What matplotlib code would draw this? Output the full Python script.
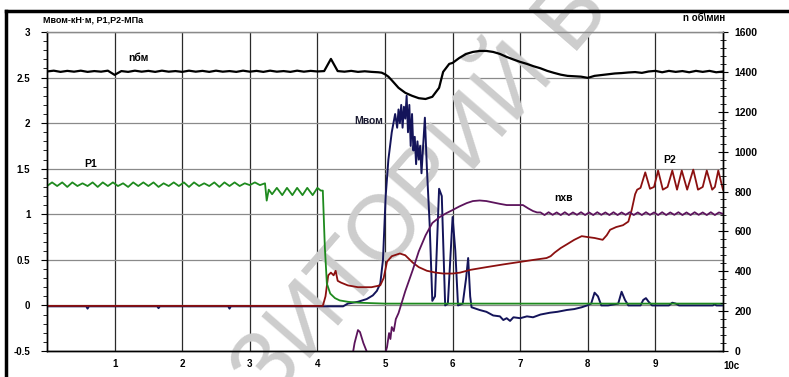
import numpy as np
import matplotlib
matplotlib.use("Agg")
import matplotlib.pyplot as plt
from matplotlib.lines import Line2D
from matplotlib.ticker import MultipleLocator

plt.rcParams['font.family'] = ['Liberation Sans', 'DejaVu Sans']

# ---- data ----
# n бм, об/мин (right axis); first part sampled every 0.1 s
nbm_head = [1402, 1406, 1400, 1405, 1401, 1406, 1400, 1404, 1401, 1406,
            1385, 1404, 1400, 1406, 1401, 1405, 1400, 1406, 1401, 1404,
            1400, 1406, 1401, 1405, 1400, 1406, 1401, 1404, 1400, 1406,
            1401, 1405, 1400, 1406, 1401, 1404, 1400, 1406, 1401, 1405,
            1402, 1404, 1465, 1404, 1401, 1405, 1400, 1403, 1400, 1398]
nbm_tail_t = [4.95, 5.0, 5.05, 5.1, 5.2, 5.3, 5.4, 5.5, 5.6, 5.7, 5.8, 5.86,
              5.95, 6.0, 6.1, 6.2, 6.3, 6.4, 6.5, 6.6, 6.7, 6.8, 6.9, 7.0,
              7.1, 7.2, 7.3, 7.4, 7.5, 7.6, 7.7, 7.8, 7.9, 8.0, 8.1, 8.2,
              8.3, 8.4, 8.5, 8.6, 8.7, 8.8, 8.9, 9.0, 9.1, 9.2, 9.3, 9.4,
              9.5, 9.6, 9.7, 9.8, 9.9, 10.0]
nbm_tail = [1396, 1388, 1376, 1358, 1320, 1295, 1280, 1268, 1264, 1275, 1320, 1400,
            1440, 1445, 1470, 1490, 1500, 1505, 1505, 1500, 1490, 1475, 1462, 1450,
            1440, 1428, 1418, 1405, 1395, 1386, 1380, 1378, 1376, 1370, 1380, 1384,
            1388, 1392, 1394, 1397, 1399, 1395, 1402, 1405, 1398, 1405, 1400, 1404,
            1398, 1405, 1400, 1405, 1398, 1402]

# P1, МПа (left axis); first part sampled every 0.075 s
p1_head = [1.31, 1.35, 1.31, 1.35, 1.30, 1.35, 1.31, 1.34, 1.31, 1.35, 1.30,
           1.35, 1.31, 1.35, 1.31, 1.34, 1.30, 1.35, 1.31, 1.35, 1.31, 1.35,
           1.30, 1.34, 1.31, 1.35, 1.31, 1.35, 1.30, 1.35, 1.31, 1.34, 1.31,
           1.35, 1.30, 1.35, 1.31, 1.35, 1.31, 1.34, 1.32, 1.35, 1.32, 1.34]
p1_tail_t = [3.25, 3.28, 3.33, 3.40, 3.48, 3.55, 3.63, 3.70, 3.78, 3.85, 3.93, 4.00,
             4.05, 4.08, 4.11, 4.14, 4.19, 4.26, 4.33, 4.45, 4.6, 5.0, 6.0, 8.0, 10.0]
p1_tail = [1.15, 1.27, 1.22, 1.29, 1.21, 1.29, 1.21, 1.29, 1.21, 1.29, 1.21, 1.29,
           1.26, 1.26, 0.64, 0.24, 0.13, 0.08, 0.055, 0.04, 0.03, 0.02, 0.02, 0.02, 0.02]

# P2, МПа (left axis)
p2_t = [0.0, 4.08, 4.12, 4.16, 4.2, 4.24, 4.27, 4.3, 4.35, 4.45, 4.6, 4.8, 4.93,
        4.98, 5.03, 5.1, 5.22, 5.3, 5.41, 5.5, 5.62, 5.75, 5.86, 6.0, 6.11, 6.26,
        6.5, 6.75, 7.02, 7.2, 7.39, 7.45, 7.51, 7.6, 7.69, 7.8, 7.91, 8.0, 8.1,
        8.22, 8.28, 8.33, 8.42, 8.52, 8.6, 8.65, 8.7, 8.73, 8.78, 8.85, 8.92,
        8.98, 9.04, 9.11, 9.18, 9.25, 9.32, 9.39, 9.47, 9.56, 9.63, 9.7, 9.76,
        9.84, 9.88, 9.93, 10.0]
p2 = [-0.005, -0.005, 0.1, 0.33, 0.36, 0.33, 0.38, 0.27, 0.25, 0.22, 0.2, 0.2, 0.22,
      0.3, 0.48, 0.54, 0.57, 0.55, 0.47, 0.42, 0.38, 0.36, 0.35, 0.35, 0.36, 0.39,
      0.42, 0.45, 0.48, 0.5, 0.52, 0.54, 0.58, 0.63, 0.67, 0.72, 0.76, 0.75, 0.74,
      0.72, 0.77, 0.83, 0.86, 0.88, 0.92, 1.05, 1.22, 1.27, 1.29, 1.46, 1.28,
      1.3, 1.48, 1.27, 1.3, 1.48, 1.27, 1.48, 1.27, 1.49, 1.27, 1.3, 1.48,
      1.27, 1.30, 1.48, 1.27]

# M вом, кН·м (left axis)
mvom_t = [0.0, 0.58, 0.6, 0.62, 1.63, 1.65, 1.67, 2.68, 2.7, 2.72, 4.38, 4.45,
          4.6, 4.73, 4.82, 4.88, 4.93, 4.97, 5.01, 5.05, 5.1, 5.15, 5.18, 5.2,
          5.22, 5.24, 5.26, 5.28, 5.3, 5.32, 5.34, 5.36, 5.38, 5.4, 5.42, 5.44,
          5.46, 5.48, 5.5, 5.52, 5.54, 5.56, 5.59, 5.62, 5.66, 5.7, 5.74, 5.8,
          5.84, 5.89, 5.93, 6.0, 6.04, 6.08, 6.15, 6.2, 6.23, 6.26, 6.28, 6.4,
          6.5, 6.6, 6.7, 6.75, 6.8, 6.85, 6.9, 7.0, 7.1, 7.19, 7.3, 7.44, 7.55,
          7.69, 7.8, 7.91, 7.99, 8.05, 8.1, 8.15, 8.2, 8.3, 8.45, 8.5, 8.55, 8.6,
          8.78, 8.82, 8.86, 8.9, 8.95, 9.2, 9.25, 9.3, 9.35, 9.85, 9.88, 9.9, 10.0]
mvom = [-0.01, -0.01, -0.035, -0.01, -0.01, -0.03, -0.01, -0.01, -0.035, -0.01, -0.01, 0.02,
        0.04, 0.07, 0.11, 0.16, 0.24, 0.5, 1.2, 1.6, 1.9, 2.1, 1.95, 2.15,
        2.0, 2.2, 1.95, 2.18, 2.05, 2.3, 1.9, 2.2, 1.75, 2.1, 1.7, 1.85,
        1.55, 1.8, 1.6, 1.75, 1.45, 1.7, 2.06, 1.5, 0.9, 0.05, 0.1, 1.28,
        1.2, 0.0, 0.02, 0.97, 0.6, 0.0, 0.02, 0.3, 0.52, 0.1, -0.02, -0.05,
        -0.07, -0.11, -0.12, -0.16, -0.14, -0.17, -0.13, -0.14, -0.12, -0.13, -0.10, -0.08, -0.07,
        -0.05, -0.04, -0.02, 0.0, 0.02, 0.14, 0.1, 0.0, 0.0, 0.02, 0.15, 0.06, 0.0,
        0.0, 0.06, 0.08, 0.04, 0.0, 0.0, 0.03, 0.02, 0.0, 0.0, 0.015, 0.0, 0.0]

# n хв, об/мин (right axis)
nxv_head_t = [4.5, 4.55, 4.6, 4.63, 4.68, 4.75, 4.98, 5.03, 5.06, 5.08, 5.1, 5.13,
              5.16, 5.2, 5.3, 5.41, 5.5, 5.6, 5.7, 5.81, 5.9, 6.0, 6.1, 6.21,
              6.3, 6.4, 6.5, 6.6, 6.7, 6.8, 6.9, 7.04, 7.12, 7.19, 7.25]
nxv_head = [-60, 40, 105, 95, 40, -20, -40, 20, 90, 60, 120, 100,
            160, 190, 300, 406, 500, 580, 642, 672, 690, 707, 725, 742,
            752, 755, 752, 745, 738, 732, 732, 732, 715, 702, 695]
nxv_tail = [695, 682, 696, 683, 695, 682, 696, 682, 695, 683,
            696, 682, 695, 682, 696, 683, 695, 682, 696, 682,
            695, 683, 696, 682, 695, 682, 696, 683, 695, 682,
            696, 682, 695, 683, 696, 682, 695, 682, 696, 683,
            695, 682, 696, 682, 695, 688]

# ---- figure ----
fig = plt.figure(figsize=(7.89, 3.77), dpi=100)
ax = fig.add_axes([47 / 789, 1 - 351 / 377, 676 / 789, 319 / 377])
ax2 = ax.twinx()

nbm_t = np.concatenate([np.arange(len(nbm_head)) * 0.1, nbm_tail_t])
p1_t = np.concatenate([np.arange(len(p1_head)) * 0.075, p1_tail_t])
nxv_t = np.concatenate([nxv_head_t, 7.3 + np.arange(len(nxv_tail)) * 0.06])

ax.plot(mvom_t, mvom, color='#14145a', lw=1.4, zorder=3)
ax.plot(p2_t, p2, color='#8b1010', lw=1.3, zorder=4)
ax.plot(p1_t, np.concatenate([p1_head, p1_tail]), color='#1e8a1e', lw=1.3, zorder=5)
ax2.plot(nxv_t, np.concatenate([nxv_head, nxv_tail]), color='#5c145c', lw=1.3)
ax2.plot(nbm_t, np.concatenate([nbm_head, nbm_tail]), color='black', lw=1.6)

ax.set_xlim(0, 10)
ax.set_ylim(-0.5, 3)
ax2.set_ylim(0, 1600)

ax.set_xticks(range(1, 10))
ax.set_yticks(np.arange(-0.5, 3.01, 0.5))
ax.set_yticklabels(['-0.5', '0', '0.5', '1', '1.5', '2', '2.5', '3'])
ax.yaxis.set_minor_locator(MultipleLocator(0.1))
ax.grid(axis='x', color='#2a2a2a', lw=0.9)
ax.grid(axis='y', color='#8a8a8a', lw=0.9)
ax.set_axisbelow(True)
ax.tick_params(axis='x', length=0, pad=6, labelsize=7)
ax.tick_params(axis='y', which='major', direction='out', length=4, labelsize=7, pad=8)
ax.tick_params(axis='y', which='minor', direction='out', length=3)
for lab in ax.get_xticklabels() + ax.get_yticklabels():
    lab.set_fontweight('bold')

ax2.set_yticks(range(0, 1601, 200))
ax2.yaxis.set_minor_locator(MultipleLocator(40))
ax2.tick_params(axis='y', which='major', direction='inout', length=7, labelsize=7.5, pad=5)
ax2.tick_params(axis='y', which='minor', direction='inout', length=5)
for lab in ax2.get_yticklabels():
    lab.set_fontweight('bold')

for a in (ax, ax2):
    a.spines['top'].set_color('#8a8a8a')
    a.spines['top'].set_linewidth(0.9)
    a.spines['left'].set_linewidth(1.0)
    a.spines['right'].set_linewidth(1.0)
    a.spines['bottom'].set_linewidth(1.0)

ax.annotate('10c', xy=(10, -0.5), xytext=(6, -7), textcoords='offset points',
            ha='center', va='top', fontsize=7, fontweight='bold')

# labels
fig.text(43 / 789, 1 - 20 / 377, 'Мвом-кН·м, Р1,Р2-МПа', fontsize=6.5,
         fontweight='bold', va='center', ha='left')
fig.text(725 / 789, 1 - 18 / 377, 'n об\\мин', fontsize=7, fontweight='bold',
         va='center', ha='right')
ax.text(1.2, 2.72, 'nбм', fontsize=7.5, fontweight='bold', va='center')
ax.text(4.55, 2.02, 'Мвом', fontsize=7.5, fontweight='bold', va='center', color='#1a1a30')
ax.text(0.55, 1.55, 'P1', fontsize=7.5, fontweight='bold', va='center')
ax.text(9.12, 1.6, 'P2', fontsize=7.5, fontweight='bold', va='center')
ax.text(7.5, 1.18, 'nхв', fontsize=7.5, fontweight='bold', va='center')

# watermark, behind the curves
ax.text(0.535, 0.49, 'ЗИТОРИЙ Б', transform=fig.transFigure, fontsize=66,
        color='#cdcdcd', rotation=49, ha='center', va='center', zorder=1.5,
        clip_on=False)

# outer frame lines
fig.add_artist(Line2D([6 / 789, 1], [1 - 11 / 377, 1 - 11 / 377],
                      transform=fig.transFigure, color='black', lw=2.5))
fig.add_artist(Line2D([6 / 789, 6 / 789], [0, 1 - 11 / 377],
                      transform=fig.transFigure, color='black', lw=2.5))

fig.savefig('out.png', dpi=100)
